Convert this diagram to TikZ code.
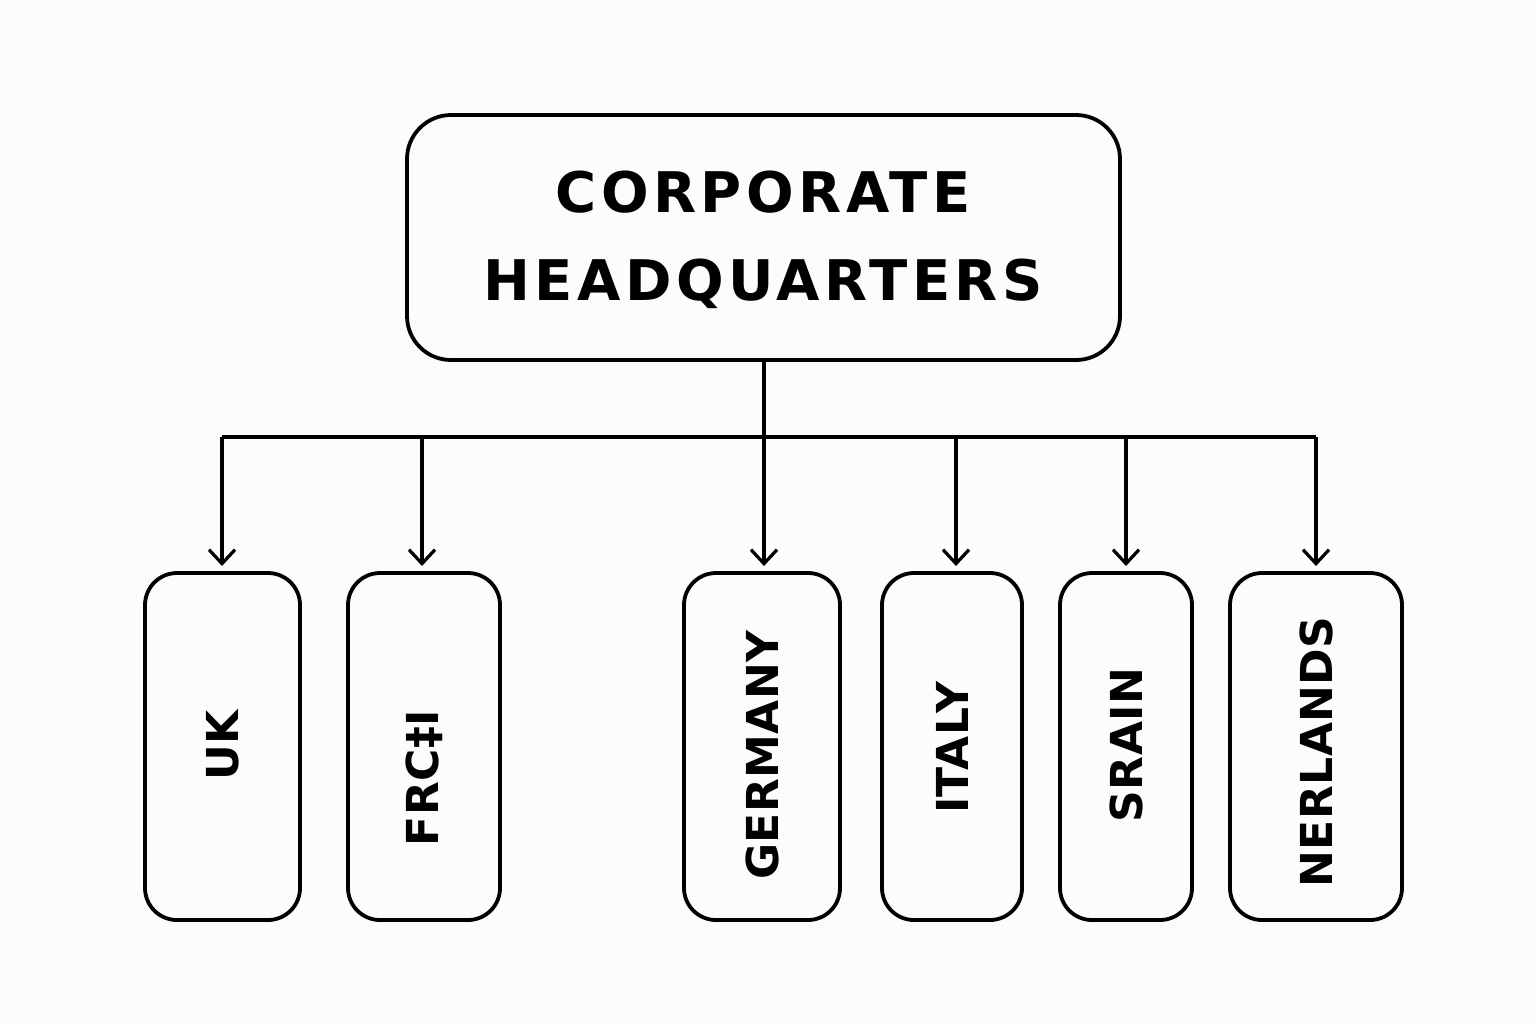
\documentclass[tikz,border=0pt]{standalone}
\usepackage{fontspec}
\setmainfont{DejaVu Sans}[LetterSpace=8]
\usetikzlibrary{arrows.meta}
\definecolor{bg}{RGB}{252,252,250}
\begin{document}
\begin{tikzpicture}[x=0.5pt,y=-0.5pt,
  box/.style={draw,line width=1.9pt,rounded corners=16pt},
  lbl/.style={font=\fontsize{22}{26}\selectfont\bfseries\addfontfeature{LetterSpace=1},rotate=90},
  con/.style={line width=1.6pt},
  arr/.style={con,-{Straight Barb[length=7pt,width=13pt,line width=1.6pt]}}]
\useasboundingbox[fill=bg] (0,0) rectangle (1536,1024);
\draw[box,rounded corners=22pt] (407,115) rectangle (1120,360);
\node[font=\fontsize{28}{44}\selectfont\bfseries,align=center] (hq) at (763,240) {CORPORATE\\HEADQUARTERS};
\coordinate (hqs) at (764,360);
\coordinate (bus) at (764,437);
\foreach \n/\a/\b/\t/\ty/\ax in {uk/145/300/UK/745/222, fr/348/500/FRC‡I/778/422, de/684/840/GERMANY/755/764, it/882/1022/ITALY/748/956, es/1060/1192/SRAIN/745/1126, nl/1230/1402/NERLANDS/752/1316}{
  \draw[box] (\a,573) rectangle (\b,920);
  \node[lbl] (\n) at ({(\a+\b)/2},\ty) {\t};
  \coordinate (\n t) at (\ax,566);
  \coordinate (\n b) at (\ax,437);
  \draw[arr] (\n b) -- (\n t);
}
\draw[con] (hqs) -- (bus);
\draw[con] (ukb) -- (nlb);
\end{tikzpicture}
\end{document}
